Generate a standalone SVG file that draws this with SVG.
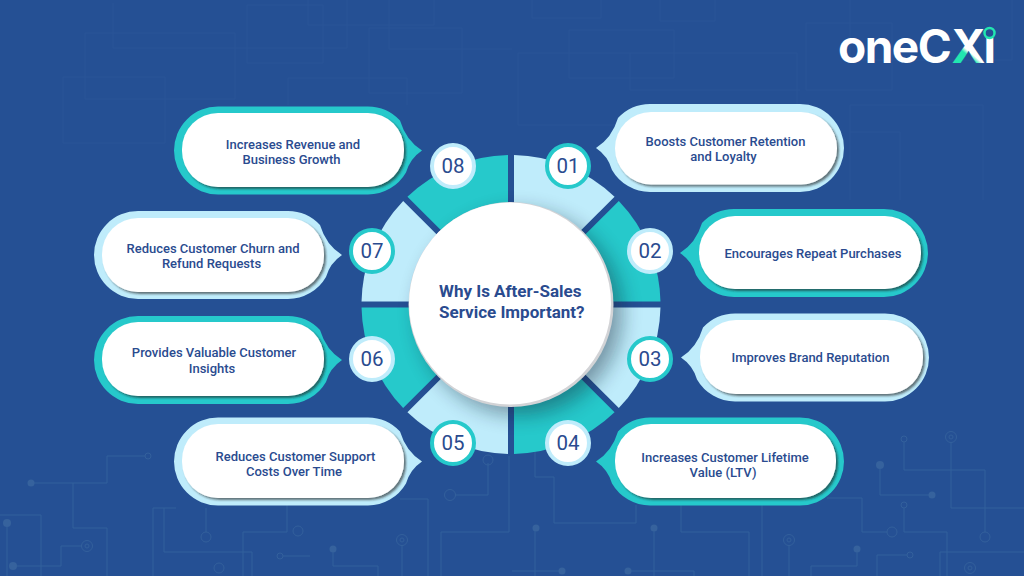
<svg xmlns="http://www.w3.org/2000/svg" width="1024" height="576" viewBox="0 0 1024 576">
<style>
.faint{fill:none;stroke:#2a5597;stroke-width:1}
.trace{fill:none;stroke:#33609c;stroke-width:1}
.dot{fill:#36629d}
.ring{fill:none;stroke:#33609c;stroke-width:1}
.light{fill:#bfecfb}
.teal{fill:#26c9cb}
.face{fill:#fff;filter:url(#pillShadow)}
.lbl{font-family:Roboto,"Liberation Sans",sans-serif;font-weight:470;font-size:13px;fill:#2a4b8f;text-anchor:middle}
.num{font-family:Roboto,"Liberation Sans",sans-serif;font-weight:450;font-size:20.5px;fill:#2a4b8f;text-anchor:middle}
.ttl{font-family:Roboto,"Liberation Sans",sans-serif;font-weight:700;font-size:17px;fill:#2a4b8f}
.logo{font-family:Inter,"Liberation Sans",sans-serif;font-weight:700;font-size:46px;letter-spacing:-1.5px;fill:#fff}
.bi{fill:#fff;stroke-width:4}
.bi.l{stroke:#bfecfb}
.bi.t{stroke:#26c9cb}
</style>
<defs>
<filter id="pillShadow" x="-5%" y="-10%" width="110%" height="125%">
<feDropShadow dx="2" dy="2" stdDeviation="1.3" flood-color="#222" flood-opacity="0.6"/>
</filter>
<filter id="hubShadow" x="-30%" y="-30%" width="170%" height="170%">
<feGaussianBlur stdDeviation="10"/>
</filter>
<clipPath id="ringClip"><circle cx="511" cy="304.5" r="149.5"/></clipPath>
<linearGradient id="xGrad" gradientUnits="userSpaceOnUse" x1="953" y1="63" x2="983" y2="28">
<stop offset="0.33" stop-color="#22e6b0"/>
<stop offset="0.42" stop-color="#fff"/>
</linearGradient>
<path id="seg" d="M3,-149.47 A149.5,149.5 0 0 1 103.57,-107.81 L61.48,-65.73 L3,-89.95 Z"/>
<path id="shellL" d="M44,0 H194 A44,44 0 0 1 194,88 H44 A44,44 0 0 1 6,66 Q2,52 -10,44 Q6,34 12,14 A44,44 0 0 1 44,0 Z"/>
<path id="shellR" d="M44,0 H194 A44,44 0 0 1 226,14 Q232,34 248,44 Q236,52 232,66 A44,44 0 0 1 194,88 H44 A44,44 0 0 1 44,0 Z"/>
</defs>
<rect id="bg" width="1024" height="576" fill="#255094"/>
<g id="circuit-top">
<path class="faint" d="M113,3V48H347V0M85,33H235V99H85ZM63,77H165V143H63ZM247,5H323V63H247ZM308,0V25H434V0M369,28H462V93H369ZM288,105V78H407V105M389,0V49H512"/>
<path class="faint" d="M532,0V18H601V0M660,0V21H715V0M569,30H674V78H569ZM518,53H797V125H518ZM630,53V90H800M806,23H892V90H806ZM850,0V60H1012V0M850,105H983V200M850,105V200M850,132H900V200"/>
</g>
<g id="circuit-bottom">
<path class="trace" d="M145,456H107V483H34M73,483V528H107V576M7,526V576M0,515H41V576M82,546H61V566H16M153,576V508H176M164,508V552H252V576M206,532V508M287,497V532H243V576M283,556H310M428,499H400M428,499V576M455,495H488V463M509,456V532H441V576M333,552V566H378V576M402,545V576"/>
<path class="trace" d="M535,450V477H554V523H636V505M535,531V576M654,531V576M681,505V532H749V576M762,505V576M789,545V576M827,498H862V532H887M880,468V495H929M904,442V470H985V532M951,442V508H1024M904,508V532H947V576M857,552V566H811V576M907,555H877V576M940,576V552H1024M512,571H559M631,571H694V576"/>
<g class="dot"><circle cx="31" cy="483" r="3.5"/><circle cx="7" cy="523" r="4"/><circle cx="13" cy="566" r="4"/><circle cx="333" cy="549" r="3.5"/><circle cx="536" cy="528" r="3.5"/><circle cx="654" cy="528" r="3.5"/><circle cx="562" cy="571" r="3.5"/><circle cx="628" cy="571" r="3.5"/><circle cx="880" cy="465" r="4"/><circle cx="932" cy="495" r="3.5"/><circle cx="857" cy="549" r="3.5"/></g>
<g class="ring"><circle cx="148" cy="456" r="3"/><circle cx="87" cy="546" r="5.5"/><circle cx="87" cy="546" r="2"/><circle cx="206" cy="537" r="5"/><circle cx="298" cy="531" r="5"/><circle cx="280" cy="556" r="3"/><circle cx="219" cy="568" r="5"/><circle cx="450" cy="495" r="5.5"/><circle cx="488" cy="460" r="5"/><circle cx="402" cy="540" r="5.5"/><circle cx="402" cy="540" r="2"/><circle cx="789" cy="540" r="5.5"/><circle cx="789" cy="540" r="2"/><circle cx="892" cy="532" r="5"/><circle cx="904" cy="439" r="3"/><circle cx="985" cy="537" r="5"/><circle cx="951" cy="437" r="5.5"/><circle cx="951" cy="437" r="2"/><circle cx="904" cy="505" r="3"/><circle cx="910" cy="555" r="3"/><circle cx="970" cy="568" r="5.5"/><circle cx="970" cy="568" r="2"/></g>
</g>
<g id="logo">
<text class="logo" x="838" y="63">oneC<tspan x="951.5" fill="url(#xGrad)">X</tspan><tspan x="983.5">i</tspan></text>
<circle cx="989.5" cy="33" r="5" fill="#255094" stroke="#22e6b0" stroke-width="2.5"/>
</g>
<g id="connectors"></g>
<g id="hub-ring" transform="translate(511,304.5)">
<use href="#seg" class="light"/>
<use href="#seg" class="teal" transform="rotate(45)"/>
<use href="#seg" class="light" transform="rotate(90)"/>
<use href="#seg" class="teal" transform="rotate(135)"/>
<use href="#seg" class="light" transform="rotate(180)"/>
<use href="#seg" class="teal" transform="rotate(225)"/>
<use href="#seg" class="light" transform="rotate(270)"/>
<use href="#seg" class="teal" transform="rotate(315)"/>
</g>
<g id="hub">
<g clip-path="url(#ringClip)"><circle cx="520" cy="313" r="102" fill="#123" opacity="0.42" filter="url(#hubShadow)"/></g>
<circle cx="511" cy="304.5" r="102.5" fill="#d2d3d6"/>
<circle cx="510" cy="303.5" r="101" fill="#fff"/>
<text class="ttl" x="439" y="297">Why Is After-Sales</text>
<text class="ttl" x="439" y="317.5">Service Important?</text>
</g>
<g id="node-01">
<use href="#shellL" x="606" y="104" class="light"/>
<rect class="face" x="615" y="112" width="222" height="72.5" rx="36"/>
<text class="lbl" x="725.5" y="146">Boosts Customer Retention</text>
<text class="lbl" x="723.5" y="161">and Loyalty</text>
<circle class="bi t" cx="568" cy="166" r="21"/>
<text class="num" x="568" y="173">01</text>
</g>
<g id="node-02">
<use href="#shellL" x="690" y="209" class="teal"/>
<rect class="face" x="699" y="216" width="222" height="73" rx="36"/>
<text class="lbl" x="813" y="257.5">Encourages Repeat Purchases</text>
<circle class="bi l" cx="650" cy="251" r="21"/>
<text class="num" x="650" y="258">02</text>
</g>
<g id="node-03">
<use href="#shellL" x="691" y="313.5" class="light"/>
<rect class="face" x="700" y="320" width="223" height="74" rx="36"/>
<text class="lbl" x="810.5" y="362">Improves Brand Reputation</text>
<circle class="bi t" cx="650" cy="359" r="21"/>
<text class="num" x="650" y="366">03</text>
</g>
<g id="node-04">
<use href="#shellL" x="606" y="417.5" class="teal"/>
<rect class="face" x="615" y="424" width="221" height="74" rx="36"/>
<text class="lbl" x="725" y="462">Increases Customer Lifetime</text>
<text class="lbl" x="723" y="477">Value (LTV)</text>
<circle class="bi l" cx="568" cy="443" r="21"/>
<text class="num" x="568" y="450">04</text>
</g>
<g id="node-05">
<use href="#shellR" x="174" y="417.5" class="light"/>
<rect class="face" x="182" y="424" width="222" height="74" rx="36"/>
<text class="lbl" x="295.5" y="461">Reduces Customer Support</text>
<text class="lbl" x="294" y="476">Costs Over Time</text>
<circle class="bi t" cx="453" cy="443" r="21"/>
<text class="num" x="453" y="450">05</text>
</g>
<g id="node-06">
<use href="#shellR" x="94" y="316" class="teal"/>
<rect class="face" x="102" y="322" width="222" height="74" rx="36"/>
<text class="lbl" x="214" y="357">Provides Valuable Customer</text>
<text class="lbl" x="212" y="373">Insights</text>
<circle class="bi l" cx="372" cy="359" r="21"/>
<text class="num" x="372" y="366">06</text>
</g>
<g id="node-07">
<use href="#shellR" x="94" y="211" class="light"/>
<rect class="face" x="102" y="218" width="222" height="74" rx="36"/>
<text class="lbl" x="213" y="252.5">Reduces Customer Churn and</text>
<text class="lbl" x="211.5" y="268">Refund Requests</text>
<circle class="bi t" cx="372" cy="251" r="21"/>
<text class="num" x="372" y="258">07</text>
</g>
<g id="node-08">
<use href="#shellR" x="174" y="106.5" class="teal"/>
<rect class="face" x="182" y="113" width="222" height="74" rx="36"/>
<text class="lbl" x="293" y="149">Increases Revenue and</text>
<text class="lbl" x="291.5" y="164">Business Growth</text>
<circle class="bi l" cx="453" cy="166" r="21"/>
<text class="num" x="453" y="173">08</text>
</g>
</svg>
